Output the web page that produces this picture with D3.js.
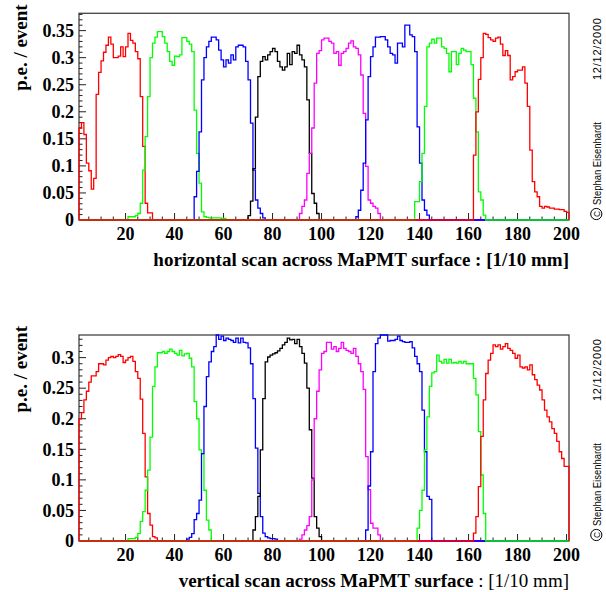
<!DOCTYPE html>
<html><head><meta charset="utf-8">
<script src="https://cdn.jsdelivr.net/npm/d3@7"></script>
<style>
html,body{margin:0;padding:0;background:#fff;}
svg{display:block;}
</style></head><body>
<svg id="chart" width="606" height="592"></svg>
<script>
// Scan range: bin k covers [k, k+1), 200 bins of 1/10 mm
const xMin = 1, xMax = 201;
const xTickLabels = [20, 40, 60, 80, 100, 120, 140, 160, 180, 200];
const yTickLabelsTop = [0, 0.05, 0.1, 0.15, 0.2, 0.25, 0.3, 0.35];
const yTickLabelsBottom = [0, 0.05, 0.1, 0.15, 0.2, 0.25, 0.3];
const yMaxTop = 0.382, yMaxBottom = 0.337;

// pixel channel colours, in drawing order
const channelColors = ["#ff0000", "#00ff00", "#0000ff", "#000000", "#ff00ff", "#0000ff", "#00ff00", "#ff0000"];

// horizontal scan: first bin of each channel, then the bin contents (p.e. / event)
const hFirstBin = [1, 21, 48, 70, 91, 114, 138, 162];
const hCh1 = [0.17, 0.18, 0.158, 0.105, 0.091, 0.057, 0.077, 0.232, 0.273, 0.294, 0.31, 0.323, 0.338, 0.325, 0.3, 0.3, 0.303, 0.32, 0.302, 0.32, 0.345, 0.332, 0.327, 0.311, 0.298, 0.228, 0.136, 0.031, 0.013, 0.013];
const hCh2 = [0.006, 0.006, 0.006, 0.008, 0.012, 0.031, 0.092, 0.154, 0.228, 0.3, 0.327, 0.338, 0.348, 0.348, 0.339, 0.327, 0.311, 0.293, 0.286, 0.303, 0.302, 0.305, 0.337, 0.337, 0.33, 0.325, 0.311, 0.203, 0.123, 0.068, 0.015, 0.006, 0.005, 0.004, 0.004, 0.004, 0.004, 0.004, 0.003, 0.003];
const hCh3 = [0.043, 0.09, 0.163, 0.259, 0.3, 0.32, 0.33, 0.338, 0.338, 0.333, 0.314, 0.296, 0.283, 0.296, 0.29, 0.305, 0.296, 0.32, 0.323, 0.323, 0.32, 0.293, 0.259, 0.179, 0.092, 0.037, 0.022, 0.012, 0.004];
const hCh4 = [0.008, 0.035, 0.095, 0.19, 0.265, 0.293, 0.302, 0.296, 0.305, 0.311, 0.317, 0.311, 0.293, 0.283, 0.277, 0.283, 0.308, 0.287, 0.311, 0.308, 0.323, 0.305, 0.296, 0.283, 0.222, 0.123, 0.049, 0.031, 0.012];
const hCh5 = [0.012, 0.025, 0.037, 0.086, 0.123, 0.17, 0.253, 0.308, 0.313, 0.333, 0.336, 0.336, 0.33, 0.327, 0.308, 0.311, 0.286, 0.308, 0.311, 0.317, 0.327, 0.331, 0.32, 0.317, 0.305, 0.268, 0.197, 0.099, 0.037, 0.031, 0.025, 0.022, 0.012];
const hCh6 = [0.006, 0.018, 0.055, 0.105, 0.185, 0.265, 0.302, 0.32, 0.338, 0.338, 0.339, 0.339, 0.333, 0.32, 0.308, 0.305, 0.29, 0.327, 0.327, 0.32, 0.36, 0.36, 0.342, 0.339, 0.311, 0.172, 0.105, 0.037, 0.018, 0.009];
const hCh7 = [0.034, 0.034, 0.071, 0.123, 0.21, 0.32, 0.327, 0.334, 0.327, 0.336, 0.336, 0.32, 0.317, 0.308, 0.274, 0.311, 0.311, 0.287, 0.308, 0.317, 0.314, 0.311, 0.311, 0.287, 0.225, 0.163, 0.052, 0.037, 0.009];
const hCh8 = [0.12, 0.2, 0.26, 0.3, 0.345, 0.343, 0.337, 0.333, 0.33, 0.336, 0.338, 0.325, 0.304, 0.313, 0.304, 0.259, 0.265, 0.274, 0.277, 0.277, 0.283, 0.253, 0.21, 0.129, 0.071, 0.052, 0.043, 0.025, 0.022, 0.025, 0.024, 0.022, 0.022, 0.02, 0.02, 0.019, 0.019, 0.016, 0.014];

// vertical scan
const vFirstBin = [1, 21, 45, 72, 91, 118, 139, 162];
const vCh1 = [0.2, 0.21, 0.231, 0.245, 0.26, 0.27, 0.27, 0.277, 0.29, 0.29, 0.288, 0.296, 0.3, 0.302, 0.3, 0.302, 0.305, 0.302, 0.292, 0.296, 0.3, 0.302, 0.294, 0.277, 0.266, 0.232, 0.176, 0.105, 0.045, 0.026, 0.007, 0.005];
const vCh2 = [0.004, 0.004, 0.004, 0.006, 0.012, 0.032, 0.048, 0.083, 0.116, 0.17, 0.253, 0.285, 0.308, 0.308, 0.31, 0.307, 0.31, 0.314, 0.31, 0.307, 0.304, 0.312, 0.303, 0.306, 0.307, 0.299, 0.285, 0.228, 0.2, 0.149, 0.143, 0.083, 0.034, 0.018];
const vCh3 = [0.003, 0.006, 0.012, 0.035, 0.045, 0.067, 0.143, 0.22, 0.269, 0.293, 0.31, 0.318, 0.337, 0.33, 0.335, 0.328, 0.332, 0.33, 0.328, 0.325, 0.332, 0.324, 0.332, 0.325, 0.324, 0.316, 0.29, 0.233, 0.152, 0.078, 0.04, 0.013, 0.007, 0.005, 0.004, 0.004, 0.003];
const vCh4 = [0.018, 0.04, 0.073, 0.149, 0.233, 0.293, 0.301, 0.304, 0.306, 0.308, 0.311, 0.315, 0.321, 0.325, 0.332, 0.329, 0.33, 0.323, 0.33, 0.318, 0.307, 0.291, 0.25, 0.182, 0.103, 0.04, 0.021, 0.007];
const vCh5 = [0.003, 0.01, 0.018, 0.025, 0.04, 0.1, 0.2, 0.245, 0.28, 0.307, 0.31, 0.325, 0.325, 0.314, 0.318, 0.31, 0.315, 0.325, 0.315, 0.312, 0.31, 0.307, 0.315, 0.302, 0.29, 0.277, 0.248, 0.138, 0.084, 0.029, 0.021, 0.021, 0.01];
const vCh6 = [0.018, 0.09, 0.146, 0.277, 0.323, 0.332, 0.345, 0.345, 0.338, 0.327, 0.328, 0.328, 0.33, 0.335, 0.328, 0.326, 0.325, 0.325, 0.326, 0.316, 0.302, 0.29, 0.277, 0.214, 0.146, 0.073, 0.068];
const vCh7 = [0.021, 0.05, 0.083, 0.149, 0.203, 0.253, 0.275, 0.277, 0.304, 0.294, 0.291, 0.297, 0.291, 0.297, 0.291, 0.292, 0.291, 0.294, 0.291, 0.294, 0.29, 0.29, 0.29, 0.266, 0.239, 0.179, 0.108, 0.045];
const vCh8 = [0.013, 0.04, 0.089, 0.171, 0.231, 0.274, 0.296, 0.307, 0.321, 0.318, 0.321, 0.314, 0.318, 0.323, 0.315, 0.312, 0.307, 0.299, 0.304, 0.285, 0.283, 0.285, 0.28, 0.288, 0.272, 0.264, 0.255, 0.247, 0.231, 0.214, 0.203, 0.195, 0.184, 0.176, 0.163, 0.146, 0.135, 0.122, 0.122];

const svg = d3.select("#chart");
const serif = "'Liberation Serif', 'Times New Roman', serif";
const sans = "'Liberation Sans', Arial, sans-serif";

// expand one channel into a full 200-bin histogram
function fullHistogram(firstBin, values) {
  const bins = [];
  for (let k = xMin; k < xMax; k++) {
    const j = k - firstBin;
    bins.push({k: k, v: (j >= 0 && j < values.length) ? values[j] : 0});
  }
  return bins;
}

function drawPanel(opt) {
  const x = d3.scaleLinear().domain([xMin, xMax]).range([opt.left, opt.right]);
  const y = d3.scaleLinear().domain([0, opt.yMax]).range([opt.bottom, opt.top]).clamp(true);
  const g = svg.append("g");

  // frame
  g.append("rect")
    .attr("x", opt.left).attr("y", opt.top)
    .attr("width", opt.right - opt.left).attr("height", opt.bottom - opt.top)
    .attr("fill", "none").attr("stroke", "#444").attr("stroke-width", 1.3);

  // y axis: major ticks every 0.05, minor every 0.01, drawn inside the frame
  const yMinor = d3.range(0, opt.yMax + 1e-9, 0.01);
  g.selectAll(".ym").data(yMinor).join("line")
    .attr("x1", opt.left).attr("x2", d => opt.left + (Math.abs(d / 0.05 - Math.round(d / 0.05)) < 1e-6 ? 7 : 3.5))
    .attr("y1", d => y(d)).attr("y2", d => y(d))
    .attr("stroke", "#222").attr("stroke-width", 1);
  g.selectAll(".yl").data(opt.yTicks).join("text")
    .attr("x", opt.left - 5).attr("y", d => y(d)).attr("dy", "0.35em")
    .attr("text-anchor", "end")
    .attr("font-family", serif).attr("font-weight", "bold").attr("font-size", 18)
    .text(d => String(+d.toFixed(2)));

  // x axis: labelled ticks every 20, minor every 5
  const xMinor = d3.range(5, xMax, 5);
  g.selectAll(".xm").data(xMinor).join("line")
    .attr("x1", d => x(d)).attr("x2", d => x(d))
    .attr("y1", opt.bottom).attr("y2", d => opt.bottom - (d % 20 === 0 ? 7 : 3.5))
    .attr("stroke", "#222").attr("stroke-width", 1);
  g.selectAll(".xl").data(xTickLabels).join("text")
    .attr("x", d => x(d)).attr("y", opt.bottom + 19.5)
    .attr("text-anchor", "middle")
    .attr("font-family", serif).attr("font-weight", "bold").attr("font-size", 18)
    .text(d => d);

  // channel histograms as step outlines
  const line = d3.line().x(p => x(p[0])).y(p => y(p[1]));
  opt.channels.forEach((vals, c) => {
    const bins = fullHistogram(opt.firstBins[c], vals);
    const pts = [[xMin, 0]];
    bins.forEach(b => { pts.push([b.k, b.v]); pts.push([b.k + 1, b.v]); });
    pts.push([xMax, 0]);
    g.append("path").attr("d", line(pts))
      .attr("fill", "none").attr("stroke", channelColors[c])
      .attr("stroke-width", 1.3).attr("stroke-linejoin", "miter");
  });

  // axis titles
  g.append("text")
    .attr("transform", `translate(27,${opt.top - 9}) rotate(-90)`)
    .attr("text-anchor", "end")
    .attr("font-family", serif).attr("font-weight", "bold").attr("font-size", 19)
    .text("p.e. / event");

  const xt = g.append("text")
    .attr("x", opt.right).attr("y", opt.bottom + 45.5)
    .attr("text-anchor", "end")
    .attr("font-family", serif).attr("font-size", 19);
  xt.append("tspan").attr("font-weight", "bold").text(opt.xTitle + " ");
  xt.append("tspan").attr("font-weight", opt.unitWeight).text(": [1/10 mm]");

  // author stamp
  const sx = 600.5;
  g.append("text")
    .attr("transform", `translate(${sx},${opt.bottom - 15}) rotate(-90)`)
    .attr("font-family", sans).attr("font-size", 11).attr("fill", "#000")
    .attr("textLength", 83).attr("lengthAdjust", "spacingAndGlyphs")
    .text("Stephan Eisenhardt");
  g.append("text")
    .attr("transform", `translate(${sx},${opt.bottom - 140}) rotate(-90)`)
    .attr("font-family", sans).attr("font-size", 11).attr("fill", "#000")
    .attr("textLength", 62).attr("lengthAdjust", "spacing")
    .text("12/12/2000");
  g.append("circle")
    .attr("cx", sx - 4.2).attr("cy", opt.bottom - 6).attr("r", 5.6)
    .attr("fill", "none").attr("stroke", "#000").attr("stroke-width", 1);
  g.append("text")
    .attr("transform", `translate(${sx - 1},${opt.bottom - 6}) rotate(-90)`)
    .attr("text-anchor", "middle")
    .attr("font-family", sans).attr("font-size", 8.5)
    .text("C");
}

drawPanel({
  left: 79, right: 569, top: 13.3, bottom: 220,
  yMax: yMaxTop, yTicks: yTickLabelsTop,
  firstBins: hFirstBin,
  channels: [hCh1, hCh2, hCh3, hCh4, hCh5, hCh6, hCh7, hCh8],
  xTitle: "horizontal scan across MaPMT surface", unitWeight: "bold"
});

drawPanel({
  left: 79, right: 569, top: 335, bottom: 541,
  yMax: yMaxBottom, yTicks: yTickLabelsBottom,
  firstBins: vFirstBin,
  channels: [vCh1, vCh2, vCh3, vCh4, vCh5, vCh6, vCh7, vCh8],
  xTitle: "vertical scan across MaPMT surface", unitWeight: "normal"
});
</script>
</body></html>
